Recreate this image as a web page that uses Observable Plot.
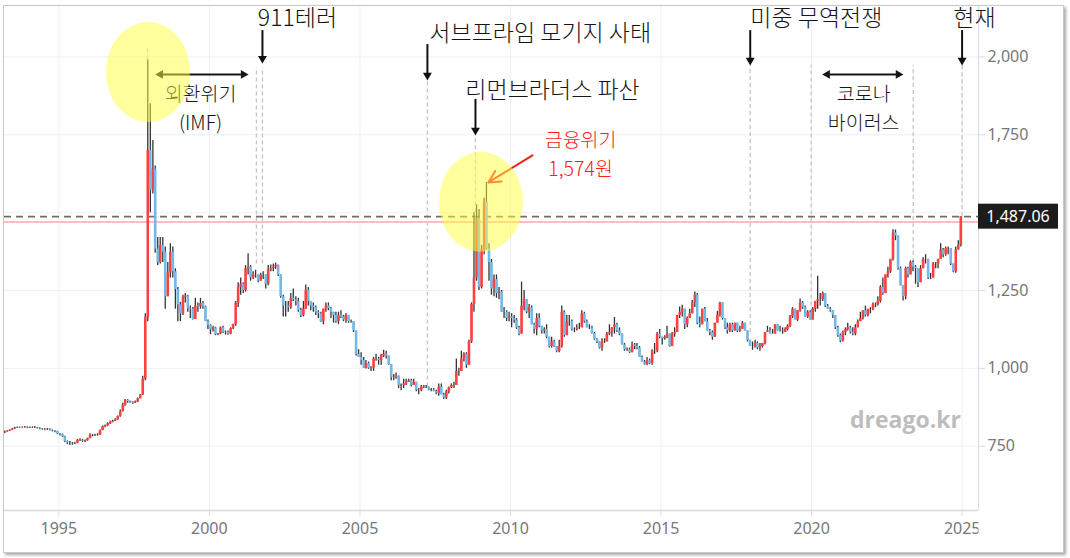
<!DOCTYPE html>
<html>
<head>
<meta charset="utf-8">
<script src="https://cdn.jsdelivr.net/npm/d3@7"></script>
<script src="https://cdn.jsdelivr.net/npm/@observablehq/plot@0.6"></script>
<style>
  html, body { margin: 0; padding: 0; background: #ffffff; }
  #wrap { position: relative; width: 1070px; height: 558px; overflow: hidden; background: #fff; }
  #chart { position: absolute; left: 0; top: 0; }
  #frame { position: absolute; left: 3px; top: 5px; width: 1059px; height: 546px; border: 1px solid #c9c9c9;
           box-shadow: 2px 2px 3px rgba(0,0,0,0.35); pointer-events: none; }
</style>
</head>
<body>
<div id="wrap"><div id="chart"></div><div id="frame"></div></div>
<script>
// ---------------- DATA (monthly USD/KRW candles, first candle = March 1993) ----------------
const startYear = 1993;
const startMonth = 3;
const firstOpen = 792;

const close = [
  796, 798, 801, 805, 808, 810, 810, 810, 811, 808,
  810, 810, 810, 808, 806, 804, 803, 805, 801, 799, 797, 789,
  787, 780, 765, 760, 760, 758, 760, 768, 769, 766, 768, 774,
  786, 785, 785, 786, 800, 812, 815, 822, 826, 830, 835, 845,
  861, 880, 897, 893, 891, 888, 892, 902, 914, 965, 1163, 1700,
  1572, 1640, 1383, 1340, 1394, 1373, 1230, 1306, 1373, 1310, 1253, 1204,
  1175, 1228, 1232, 1192, 1190, 1157, 1200, 1198, 1208, 1198, 1150, 1138,
  1123, 1130, 1108, 1110, 1130, 1115, 1115, 1110, 1128, 1140, 1210, 1260,
  1270, 1250, 1320, 1325, 1290, 1300, 1300, 1280, 1300, 1300, 1270, 1315,
  1320, 1325, 1330, 1300, 1230, 1200, 1200, 1195, 1225, 1220, 1215, 1186,
  1170, 1190, 1250, 1215, 1200, 1195, 1180, 1175, 1150, 1190, 1200, 1192,
  1180, 1170, 1150, 1170, 1165, 1155, 1170, 1150, 1150, 1120, 1045, 1035,
  1025, 1000, 1015, 1000, 1000, 1030, 1030, 1025, 1040, 1045, 1040, 1012,
  970, 970, 975, 945, 945, 950, 955, 960, 945, 955, 930, 930,
  940, 940, 940, 930, 930, 925, 920, 940, 915, 905, 925, 938,
  945, 945, 990, 990, 1030, 1045, 1010, 1085, 1205, 1290, 1480, 1260,
  1380, 1534, 1383, 1340, 1255, 1285, 1240, 1245, 1180, 1180, 1160, 1165,
  1160, 1155, 1130, 1110, 1200, 1220, 1180, 1195, 1140, 1125, 1160, 1135,
  1120, 1125, 1100, 1070, 1085, 1070, 1055, 1070, 1180, 1105, 1150, 1150,
  1125, 1125, 1130, 1130, 1175, 1150, 1130, 1130, 1112, 1093, 1085, 1065,
  1085, 1085, 1110, 1115, 1130, 1140, 1120, 1110, 1075, 1060, 1060, 1050,
  1075, 1070, 1065, 1035, 1020, 1012, 1025, 1015, 1055, 1055, 1110, 1100,
  1095, 1100, 1110, 1070, 1110, 1115, 1170, 1180, 1190, 1140, 1160, 1175,
  1210, 1235, 1145, 1140, 1190, 1150, 1120, 1115, 1100, 1145, 1170, 1210,
  1160, 1130, 1120, 1140, 1120, 1145, 1120, 1125, 1145, 1120, 1090, 1070,
  1070, 1080, 1065, 1070, 1080, 1115, 1120, 1110, 1110, 1140, 1120, 1115,
  1115, 1125, 1135, 1165, 1190, 1155, 1185, 1210, 1195, 1165, 1180, 1155,
  1190, 1215, 1220, 1220, 1240, 1200, 1190, 1185, 1170, 1130, 1105, 1087,
  1115, 1125, 1130, 1115, 1110, 1130, 1150, 1160, 1185, 1170, 1190, 1190,
  1205, 1205, 1215, 1260, 1240, 1300, 1310, 1350, 1435, 1425, 1320, 1265,
  1230, 1320, 1300, 1340, 1325, 1320, 1275, 1320, 1350, 1350, 1290, 1290,
  1335, 1335, 1350, 1380, 1365, 1385, 1385, 1335, 1310, 1380, 1395, 1487.06
];
const high = [
  799, 800, 803, 807, 811, 812, 812, 812, 813, 812,
  812, 812, 813, 811, 809, 807, 806, 807, 806, 802, 800, 798,
  791, 789, 782, 767, 765, 762, 763, 772, 774, 772, 770, 776,
  790, 788, 788, 790, 802, 815, 818, 825, 830, 833, 838, 847,
  866, 888, 900, 899, 895, 893, 895, 905, 916, 975, 1175, 1990,
  1850, 1732, 1650, 1420, 1420, 1420, 1390, 1340, 1400, 1390, 1320, 1260,
  1212, 1235, 1240, 1235, 1200, 1195, 1225, 1210, 1225, 1215, 1200, 1155,
  1140, 1135, 1132, 1112, 1133, 1135, 1120, 1120, 1130, 1142, 1215, 1275,
  1290, 1275, 1330, 1368, 1330, 1310, 1315, 1300, 1305, 1310, 1300, 1330,
  1332, 1335, 1338, 1332, 1300, 1235, 1215, 1215, 1240, 1255, 1230, 1225,
  1193, 1215, 1268, 1260, 1215, 1210, 1200, 1185, 1180, 1190, 1210, 1210,
  1195, 1180, 1180, 1180, 1185, 1170, 1175, 1170, 1155, 1150, 1120, 1060,
  1050, 1035, 1025, 1020, 1005, 1035, 1045, 1035, 1045, 1058, 1055, 1040,
  1010, 980, 985, 975, 950, 965, 965, 965, 965, 965, 955, 935,
  945, 945, 945, 940, 935, 935, 930, 950, 950, 920, 930, 940,
  950, 955, 1030, 1000, 1055, 1050, 1050, 1090, 1210, 1500, 1525, 1510,
  1395, 1546, 1597, 1400, 1350, 1300, 1300, 1260, 1250, 1195, 1185, 1180,
  1175, 1170, 1160, 1135, 1277, 1250, 1220, 1205, 1200, 1145, 1175, 1175,
  1135, 1130, 1140, 1100, 1100, 1090, 1070, 1090, 1200, 1185, 1170, 1170,
  1155, 1130, 1140, 1145, 1185, 1180, 1155, 1140, 1135, 1115, 1095, 1085,
  1095, 1095, 1115, 1140, 1130, 1163, 1145, 1130, 1110, 1080, 1065, 1065,
  1085, 1080, 1080, 1070, 1040, 1025, 1035, 1030, 1060, 1080, 1115, 1125,
  1100, 1105, 1135, 1110, 1115, 1130, 1170, 1197, 1203, 1190, 1165, 1190,
  1218, 1245, 1240, 1165, 1190, 1195, 1160, 1125, 1120, 1145, 1183, 1212,
  1210, 1160, 1145, 1145, 1145, 1145, 1145, 1135, 1150, 1145, 1120, 1090,
  1085, 1090, 1085, 1080, 1080, 1115, 1135, 1130, 1125, 1140, 1140, 1135,
  1130, 1130, 1140, 1170, 1195, 1190, 1185, 1223, 1215, 1200, 1185, 1185,
  1195, 1215, 1296, 1240, 1245, 1240, 1205, 1195, 1185, 1170, 1135, 1110,
  1120, 1130, 1145, 1135, 1130, 1140, 1155, 1180, 1185, 1200, 1190, 1195,
  1210, 1210, 1230, 1265, 1290, 1300, 1325, 1350, 1445, 1444, 1425, 1325,
  1265, 1325, 1325, 1345, 1345, 1330, 1290, 1330, 1355, 1365, 1350, 1305,
  1340, 1340, 1350, 1400, 1385, 1390, 1390, 1385, 1335, 1390, 1410, 1487.06
];
const low = [
  791, 795, 797, 801, 804, 807, 808, 808, 808, 806,
  807, 807, 807, 805, 803, 801, 800, 801, 799, 796, 793, 787,
  783, 778, 762, 755, 752, 753, 755, 758, 765, 762, 762, 766,
  774, 780, 781, 782, 785, 800, 809, 813, 820, 825, 829, 833,
  843, 860, 878, 888, 888, 885, 887, 890, 902, 913, 960, 1150,
  1500, 1560, 1370, 1330, 1335, 1340, 1190, 1230, 1290, 1290, 1190, 1150,
  1150, 1170, 1210, 1180, 1160, 1155, 1160, 1180, 1190, 1190, 1150, 1125,
  1108, 1117, 1105, 1105, 1108, 1112, 1107, 1106, 1108, 1125, 1135, 1195,
  1235, 1240, 1245, 1300, 1280, 1285, 1290, 1275, 1280, 1285, 1255, 1265,
  1310, 1310, 1318, 1295, 1225, 1165, 1165, 1180, 1190, 1215, 1200, 1180,
  1163, 1165, 1190, 1200, 1185, 1180, 1170, 1160, 1148, 1140, 1180, 1185,
  1160, 1145, 1145, 1140, 1160, 1150, 1145, 1145, 1145, 1115, 1040, 1035,
  1010, 1000, 998, 997, 990, 990, 1023, 1010, 1010, 1035, 1030, 1010,
  960, 960, 965, 935, 928, 935, 945, 955, 940, 945, 925, 915,
  925, 935, 935, 928, 925, 925, 915, 910, 915, 900, 900, 918,
  935, 935, 950, 975, 990, 1020, 1000, 1010, 1080, 1180, 1280, 1250,
  1255, 1365, 1380, 1280, 1235, 1230, 1225, 1220, 1180, 1160, 1150, 1150,
  1130, 1145, 1125, 1105, 1110, 1185, 1175, 1160, 1140, 1110, 1105, 1130,
  1110, 1110, 1095, 1065, 1065, 1068, 1050, 1050, 1065, 1100, 1110, 1135,
  1120, 1115, 1120, 1125, 1130, 1145, 1130, 1125, 1110, 1090, 1080, 1062,
  1055, 1080, 1085, 1105, 1100, 1110, 1115, 1105, 1075, 1055, 1055, 1048,
  1050, 1060, 1060, 1035, 1020, 1010, 1008, 1012, 1010, 1045, 1050, 1095,
  1075, 1090, 1095, 1068, 1070, 1100, 1120, 1160, 1165, 1125, 1130, 1160,
  1175, 1195, 1140, 1130, 1140, 1150, 1120, 1105, 1090, 1100, 1145, 1165,
  1155, 1125, 1110, 1115, 1115, 1120, 1115, 1115, 1125, 1120, 1085, 1070,
  1058, 1065, 1060, 1055, 1065, 1075, 1115, 1110, 1110, 1110, 1120, 1115,
  1110, 1115, 1120, 1130, 1160, 1155, 1150, 1180, 1190, 1165, 1160, 1155,
  1155, 1180, 1190, 1200, 1215, 1195, 1190, 1180, 1160, 1125, 1100, 1082,
  1085, 1105, 1120, 1110, 1105, 1105, 1130, 1150, 1155, 1165, 1165, 1175,
  1185, 1195, 1200, 1210, 1235, 1245, 1290, 1305, 1345, 1410, 1315, 1265,
  1216, 1220, 1290, 1300, 1310, 1270, 1260, 1275, 1320, 1335, 1285, 1285,
  1290, 1320, 1320, 1350, 1355, 1360, 1365, 1330, 1307, 1305, 1380, 1390
];

// axis ticks
const xTickYears = [1995, 2000, 2005, 2010, 2015, 2020, 2025];
const yTickValues = [750, 1000, 1250, 1750, 2000];
const yGridValues = [750, 1000, 1250, 1500, 1750, 2000];

// reference lines
const currentPrice = 1487.06;
const previousClose = 1470;

// annotation tables (anchors in data space: dates & won values)
const D = (y, m, d) => new Date(Date.UTC(y, m - 1, d));
const eventLines = [
  {date: D(1997, 12, 12), top: 2037, bottom: 1990},
  {date: D(2001, 7, 25), top: 1966, bottom: 1335},
  {date: D(2001, 10, 6), top: 1966, bottom: 1335},
  {date: D(2007, 3, 30), top: 1925, bottom: 940},
  {date: D(2008, 11, 2), top: 1748, bottom: 1500},
  {date: D(2017, 12, 18), top: 1973, bottom: 1115},
  {date: D(2019, 12, 28), top: 1973, bottom: 1155},
  {date: D(2023, 5, 18), top: 1973, bottom: 1340},
  {date: D(2024, 12, 31), top: 1973, bottom: 1487}
];
const downArrows = [
  {date: D(2001, 10, 6), from: 2075, to: 1979},
  {date: D(2007, 3, 30), from: 2030, to: 1925},
  {date: D(2008, 11, 2), from: 1854, to: 1748},
  {date: D(2017, 12, 18), from: 2075, to: 1973},
  {date: D(2024, 12, 31), from: 2075, to: 1973}
];
const spanArrows = [
  {from: D(1998, 3, 17), to: D(2001, 4, 19), value: 1944},
  {from: D(2020, 5, 10), to: D(2023, 1, 18), value: 1944}
];
const blackLabels = [
  {text: "911테러", date: D(2002, 12, 5), value: 2124},
  {text: "서브프라임 모기지 사태", date: D(2010, 12, 28), value: 2075},
  {text: "미중 무역전쟁", date: D(2020, 2, 28), value: 2124},
  {text: "현재", date: D(2025, 5, 29), value: 2124},
  {text: "리먼브라더스 파산", date: D(2011, 5, 26), value: 1892}
];
const blockLabels = [
  {text: "외환위기\n(IMF)", date: D(1999, 9, 16), value: 1842},
  {text: "코로나\n바이러스", date: D(2021, 9, 24), value: 1842}
];
const redLabels = [
  {text: "금융위기\n1,574원", date: D(2012, 4, 30), value: 1694}
];
const redArrow = [{x1: D(2010, 9, 24), y1: 1684, x2: D(2009, 4, 8), y2: 1597}];
const highlights = [
  {date: D(1997, 12, 24), value: 1950},
  {date: D(2009, 1, 14), value: 1533}
];
const watermark = [{text: "dreago.kr", date: D(2023, 2, 13), value: 833}];

// ---------------- BUILD ----------------
const candles = close.map((c, i) => {
  const m = startMonth - 1 + i;
  const date = new Date(Date.UTC(startYear + Math.floor(m / 12), m % 12, 15));
  const open = i === 0 ? firstOpen : close[i - 1];
  return {date, open, close: c, high: Math.max(high[i], open, c), low: Math.min(low[i], open, c)};
});

const xDomain = [D(1993, 3, 13), D(2025, 7, 18)];
const yDomain = [543.5, 2162];
const xTicks = xTickYears.map(y => D(y, 1, 1));
const KR = "'Noto Sans CJK KR', 'Noto Sans', sans-serif";
const NUM = "'Noto Sans', 'Open Sans', sans-serif";

const plot = Plot.plot({
  width: 1070,
  height: 558,
  marginTop: 6,
  marginLeft: 4,
  marginRight: 92,
  marginBottom: 48,
  style: {background: "transparent", fontFamily: NUM, overflow: "visible"},
  x: {type: "utc", domain: xDomain, label: null},
  y: {domain: yDomain, label: null},
  marks: [
    Plot.gridX(xTicks, {stroke: "#eef0f4", strokeOpacity: 1}),
    Plot.gridY(yGridValues, {stroke: "#eef0f4", strokeOpacity: 1}),
    Plot.text(watermark, {x: "date", y: "value", text: "text", fill: "#bdbdbd", fontSize: 23, fontWeight: "bold", fontFamily: "'Open Sans', 'Noto Sans', sans-serif"}),
    Plot.ruleX([xDomain[1]], {stroke: "#d6dbe3", strokeWidth: 1}),
    Plot.ruleY([yDomain[0]], {stroke: "#d6dbe3", strokeWidth: 1.5}),
    Plot.axisX({ticks: xTicks, tickFormat: d3.utcFormat("%Y"), tickSize: 6, tickPadding: 6, stroke: "#d6dbe3", fill: "#777", fontSize: 16, label: null}),
    Plot.axisY({ticks: yTickValues, anchor: "right", tickFormat: d3.format(","), tickSize: 6, tickPadding: 3, stroke: "#d6dbe3", fill: "#777", fontSize: 16, label: null}),
    Plot.ruleX(eventLines, {x: "date", y1: "bottom", y2: "top", stroke: "#c4c4c4", strokeWidth: 1.3, strokeDasharray: "4,3"}),
    Plot.ruleY([previousClose], {stroke: "#ffbcbc", strokeWidth: 2}),
    Plot.ruleY([currentPrice], {stroke: "#6e6e6e", strokeWidth: 1.7, strokeDasharray: "7,5"}),
    Plot.ruleX(candles, {x: "date", y1: "low", y2: "high", stroke: "#333", strokeWidth: 1.3}),
    Plot.ruleX(candles, {x: "date", y1: "open", y2: "close", stroke: d => d.close >= d.open ? "#ff4040" : "#72b8e8", strokeWidth: 2.6}),
    Plot.ruleX(downArrows, {x: "date", y1: "from", y2: "to", stroke: "#111", strokeWidth: 2, ariaLabel: "annotation-arrows", dy: -3}),
    Plot.dot(downArrows, {x: "date", y: "to", symbol: "triangle", rotate: 180, r: 3.3, fill: "#111", stroke: "none", dy: -5}),
    Plot.ruleY(spanArrows, {y: "value", x1: "from", x2: "to", stroke: "#161616", strokeWidth: 2, insetLeft: 4, insetRight: 4}),
    Plot.dot(spanArrows, {x: "from", y: "value", symbol: "triangle", rotate: -90, r: 3.3, fill: "#161616", stroke: "none", dx: 5}),
    Plot.dot(spanArrows, {x: "to", y: "value", symbol: "triangle", rotate: 90, r: 3.3, fill: "#161616", stroke: "none", dx: -5}),
    Plot.arrow(redArrow, {x1: "x1", y1: "y1", x2: "x2", y2: "y2", stroke: "#ff1a1a", strokeWidth: 2, headLength: 10, headAngle: 55}),
    Plot.text(blackLabels, {x: "date", y: "value", text: "text", fill: "#151515", fontSize: 23, fontWeight: 300, fontFamily: KR}),
    Plot.text(blockLabels, {x: "date", y: "value", text: "text", fill: "#151515", fontSize: 19.5, fontWeight: 300, lineHeight: 1.49, fontFamily: KR}),
    Plot.text(redLabels, {x: "date", y: "value", text: "text", fill: "#ff1a1a", fontSize: 19.5, fontWeight: 300, lineHeight: 1.49, fontFamily: KR})
  ]
});

document.getElementById("chart").appendChild(plot);

// ---- highlight ellipses, price tag, clipped x labels (positioned through Plot's scales) ----
const sx = plot.scale("x"), sy = plot.scale("y");
const svg = d3.select(plot);
const before = plot.querySelector('[aria-label="annotation-arrows"]');
const hl = document.createElementNS("http://www.w3.org/2000/svg", "g");
plot.insertBefore(hl, before);
d3.select(hl).selectAll("ellipse").data(highlights).join("ellipse")
  .attr("cx", d => sx.apply(d.date))
  .attr("cy", d => sy.apply(d.value))
  .attr("rx", 42).attr("ry", 50)
  .attr("fill", "#ffff3c").attr("fill-opacity", 0.5);

const tagY = sy.apply(currentPrice);
const tagX = sx.apply(xDomain[1]);
svg.append("rect").attr("x", tagX).attr("y", tagY - 12.5).attr("width", 80).attr("height", 25).attr("fill", "#1c1c1c");
svg.append("text").attr("x", tagX + 40).attr("y", tagY).attr("dy", "0.35em")
  .attr("text-anchor", "middle").attr("fill", "#fff").attr("font-size", 16).attr("font-family", NUM)
  .text(d3.format(",.2f")(currentPrice));

const defs = svg.append("defs");
defs.append("clipPath").attr("id", "xlabclip").append("rect")
  .attr("x", 0).attr("y", 0).attr("width", tagX).attr("height", 558);
const xl = plot.querySelector('[aria-label="x-axis tick label"]');
if (xl) xl.setAttribute("clip-path", "url(#xlabclip)");
</script>
</body>
</html>
